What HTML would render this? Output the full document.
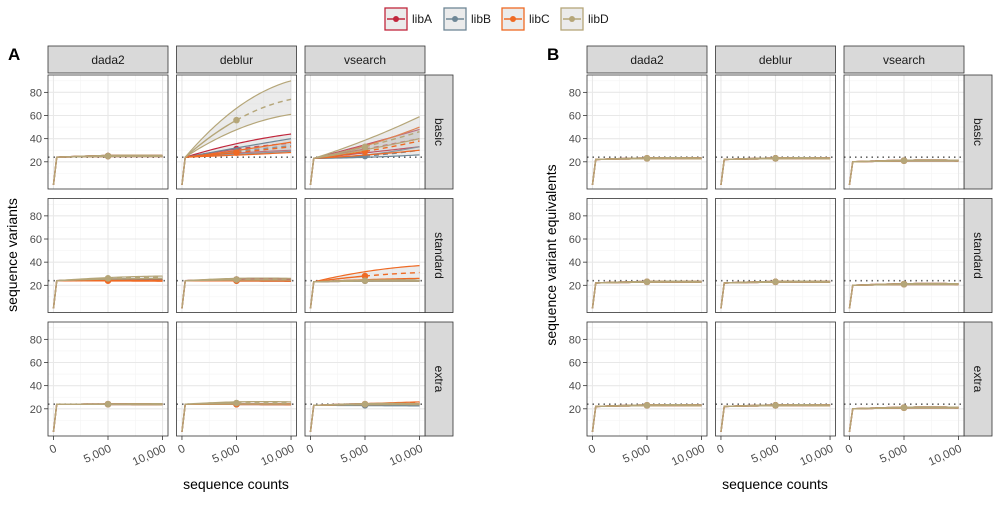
<!DOCTYPE html>
<html><head><meta charset="utf-8"><style>
body{margin:0;background:#fff;font-family:"Liberation Sans",sans-serif}
</style></head><body>
<svg id="c" width="1000" height="500" xmlns="http://www.w3.org/2000/svg"></svg>
<script>
const libs=["libA","libB","libC","libD"];
const colors=["#c1273d","#6f8796","#ef6a24","#b5a679"];
const methods=["dada2","deblur","vsearch"];
const levels=["basic","standard","extra"];
const xTicks=[0,5000,10000];
const xTickLabels=["0","5,000","10,000"];
const yTicks=[20,40,60,80];
const refLine=24;
// Figure A: [level][method][lib]
const startA=[[[24,24,24,24],[24,24,24,24],[23,23,23,23]],[[24,24,24,24],[24,24,24,24],[23,23,23,23]],[[24,24,24,24],[24,24,24,24],[23,23,23,23]]];
const v5A=[[[25,25,25,25],[31,29,28,56],[31,25,29,33]],[[25,25,24,26],[25,24,24,25],[24,24,28,24]],[[24,24,24,24],[24,24,24,25],[24,23,24,24]]];
const v10A=[[[25,25,25,25],[36,34,33,74],[40,30,38,46]],[[25,25,24,27],[25,24,24,25],[24,24,31,24]],[[24,24,24,24],[24,24,24,25],[24,23,25,24]]];
const lo10A=[[[24.5,24.5,24.5,24.5],[30,29,28,61],[33,26,30,40]],[[24.5,24.5,23.5,26],[24.5,23.5,23.5,24.5],[23.5,23.5,26,23.5]],[[23.5,23.5,23.5,23.5],[23.5,23.5,23.5,24],[23.5,22.5,24,23.5]]];
const hi10A=[[[25.5,25.5,25.5,25.5],[44,40,37,90],[48,33,50,59]],[[25.5,25.5,24.5,28],[25.5,24.5,24.5,26],[24.5,24.5,37,24.5]],[[24.5,24.5,24.5,24.5],[24.5,24.5,24.5,26],[24.5,23.5,26,24.5]]];
// Figure B
const startB=[[[22,22,22,22],[22,22,22,22],[20,20,20,20]],[[22,22,22,22],[22,22,22,22],[20,20,20,20]],[[22,22,22,22],[22,22,22,22],[20,20,20,20]]];
const v5B=[[[23,23,23,23],[23,23,23,23],[21,21,21,21]],[[23,23,23,23],[23,23,23,23],[21,21,21,21]],[[23,23,23,23],[23,23,23,23],[21,21,21,21]]];
const v10B=[[[23,23,23,23],[23,23,23,23],[21,21,21,21]],[[23,23,23,23],[23,23,23,23],[21,21,21,21]],[[23,23,23,23],[23,23,23,23],[21,21,21,21]]];
const lo10B=[[[22.6,22.6,22.6,22.6],[22.6,22.6,22.6,22.6],[20.6,20.6,20.6,20.6]],[[22.6,22.6,22.6,22.6],[22.6,22.6,22.6,22.6],[20.6,20.6,20.6,20.6]],[[22.6,22.6,22.6,22.6],[22.6,22.6,22.6,22.6],[20.6,20.6,20.6,20.6]]];
const hi10B=[[[23.4,23.4,23.4,23.4],[23.4,23.4,23.4,23.4],[21.4,21.4,21.4,21.4]],[[23.4,23.4,23.4,23.4],[23.4,23.4,23.4,23.4],[21.4,21.4,21.4,21.4]],[[23.4,23.4,23.4,23.4],[23.4,23.4,23.4,23.4],[21.4,21.4,21.4,21.4]]];

const NS="http://www.w3.org/2000/svg";
const svg=document.getElementById("c");
function mk(t,a,p){const e=document.createElementNS(NS,t);for(const k in a)e.setAttribute(k,a[k]);(p||svg).appendChild(e);return e;}
function txt(s,a,p){const e=mk("text",a,p);e.textContent=s;return e;}

const rowTops=[75,198.5,322],PH=114,PW=120;
const YMIN=-3.5,YMAX=95,XMIN=-500,XMAX=10500;

function drawFigure(fx,label,letter,yTitle,xTitle,D){
  const colX=[fx,fx+128.5,fx+257];
  const g=mk("g",{});
  
  
  const L=txt(letter,{x:fx-40,y:60,"font-size":17,"font-weight":"bold",fill:"#000"},g);
  
  
  methods.forEach((m,j)=>{
    mk("rect",{x:colX[j],y:46,width:PW,height:27,fill:"#d9d9d9",stroke:"#333","stroke-width":0.8},g);
    const t=txt(m,{x:colX[j]+PW/2,y:64,"font-size":12,"text-anchor":"middle",fill:"#1a1a1a"},g);
    
    
  });
  levels.forEach((lv,i)=>{
    const top=rowTops[i];
    const sx=colX[2]+PW;
    mk("rect",{x:sx,y:top,width:28,height:PH,fill:"#d9d9d9",stroke:"#333","stroke-width":0.8},g);
    const t=txt(lv,{x:0,y:0,"font-size":12,"text-anchor":"middle",fill:"#1a1a1a",transform:`translate(${sx+10},${top+PH/2}) rotate(90)`},g);
    
    
    const ys=v=>top+PH-(v-YMIN)/(YMAX-YMIN)*PH;
    yTicks.forEach(v=>{
      mk("line",{x1:colX[0]-4,x2:colX[0],y1:ys(v),y2:ys(v),stroke:"#333","stroke-width":0.8},g);
      const tl=txt(v,{x:colX[0]-6,y:ys(v)+4,"font-size":11,"text-anchor":"end",fill:"#4d4d4d"},g);
      
      
    });
    methods.forEach((m,j)=>{
      const x0=colX[j];
      const xs=v=>x0+(v-XMIN)/(XMAX-XMIN)*PW;
      const pg=mk("g",{},g);
      
      
      mk("rect",{x:x0,y:top,width:PW,height:PH,fill:"#fff"},pg);
      [10,30,50,70,90].forEach(v=>mk("line",{x1:x0,x2:x0+PW,y1:ys(v),y2:ys(v),stroke:"#f3f3f3","stroke-width":0.6},pg));
      [2500,7500].forEach(v=>mk("line",{x1:xs(v),x2:xs(v),y1:top,y2:top+PH,stroke:"#f3f3f3","stroke-width":0.6},pg));
      yTicks.forEach(v=>mk("line",{x1:x0,x2:x0+PW,y1:ys(v),y2:ys(v),stroke:"#e8e8e8","stroke-width":1.1},pg));
      xTicks.forEach(v=>mk("line",{x1:xs(v),x2:xs(v),y1:top,y2:top+PH,stroke:"#e8e8e8","stroke-width":1.1},pg));
      mk("line",{x1:x0,x2:x0+PW,y1:ys(refLine),y2:ys(refLine),stroke:"#666","stroke-width":1.6,"stroke-dasharray":"1.5,4"},pg);
      const order=[0,1,2,3];
      order.forEach(k=>{
        const s=D.start[i][j][k],v5=D.v5[i][j][k],v10=D.v10[i][j][k],lo=D.lo[i][j][k],hi=D.hi[i][j][k];
        const X=[300,5000,10000],Y=[s,v5,v10];
        const f=x=>{let r=0;for(let a=0;a<3;a++){let p=Y[a];for(let b=0;b<3;b++)if(b!==a)p*=(x-X[b])/(X[a]-X[b]);r+=p;}return r;};
        const tf=x=>(Math.abs(v10-s)>0.5)?(f(x)-s)/(v10-s):(x-300)/9700;
        const xsArr=[];for(let x=300;x<=10000;x+=250)xsArr.push(x);
        xsArr.push(10000);
        const upper=xsArr.map(x=>[xs(x),ys(s+(hi-s)*tf(x))]);
        const lower=xsArr.map(x=>[xs(x),ys(s+(lo-s)*tf(x))]);
        const band=mk("path",{d:"M"+upper.map(p=>p.join(",")).join("L")+"L"+lower.slice().reverse().map(p=>p.join(",")).join("L")+"Z",fill:"#bdbdbd","fill-opacity":0.3,stroke:"none"},pg);
        
        
        mk("path",{d:"M"+upper.map(p=>p.join(",")).join("L"),fill:"none",stroke:colors[k],"stroke-width":1.2},pg);
        mk("path",{d:"M"+lower.map(p=>p.join(",")).join("L"),fill:"none",stroke:colors[k],"stroke-width":1.2},pg);
        const sol=[[xs(0),ys(0)],[xs(300),ys(s)]];
        for(let x=550;x<=5000;x+=250)sol.push([xs(x),ys(f(x))]);
        const ln=mk("path",{d:"M"+sol.map(p=>p.join(",")).join("L"),fill:"none",stroke:colors[k],"stroke-width":1.4},pg);
        
        
        const das=[];for(let x=5000;x<=10000;x+=250)das.push([xs(x),ys(f(x))]);
        mk("path",{d:"M"+das.map(p=>p.join(",")).join("L"),fill:"none",stroke:colors[k],"stroke-width":1.4,"stroke-dasharray":"5,4"},pg);
        const pt=mk("circle",{cx:xs(5000),cy:ys(v5),r:3.3,fill:colors[k]},pg);
        
        
      });
      mk("rect",{x:x0,y:top,width:PW,height:PH,fill:"none",stroke:"#333","stroke-width":0.8},pg);
      if(i===2){
        xTicks.forEach((v,q)=>{
          mk("line",{x1:xs(v),x2:xs(v),y1:top+PH,y2:top+PH+4,stroke:"#333","stroke-width":0.8},g);
          const tl=txt(xTickLabels[q],{x:0,y:0,"font-size":11.5,"text-anchor":"end",fill:"#4d4d4d",transform:`translate(${xs(v)+4},${top+PH+15}) rotate(-25)`},g);
          
          
        });
      }
    });
  });
  const yt=txt(yTitle,{x:0,y:0,"font-size":14,"text-anchor":"middle",fill:"#000",transform:`translate(${fx-31},${255}) rotate(-90)`},g);
  
  
  const xt=txt(xTitle,{x:fx+188,y:489,"font-size":14,"text-anchor":"middle",fill:"#000"},g);
  
  
}
drawFigure(48,"A","A","sequence variants","sequence counts",{start:startA,v5:v5A,v10:v10A,lo:lo10A,hi:hi10A});
drawFigure(587,"B","B","sequence variant equivalents","sequence counts",{start:startB,v5:v5B,v10:v10B,lo:lo10B,hi:hi10B});

// legend
const lg=mk("g",{});


const lx=[385,444,502,561];
libs.forEach((l,k)=>{
  const e=mk("g",{},lg);
  
  
  mk("rect",{x:lx[k],y:8,width:22,height:22,fill:"#bdbdbd","fill-opacity":0.3,stroke:colors[k],"stroke-width":1.3},e);
  mk("line",{x1:lx[k]+2,x2:lx[k]+20,y1:19,y2:19,stroke:colors[k],"stroke-width":1.4},e);
  mk("circle",{cx:lx[k]+11,cy:19,r:3,fill:colors[k]},e);
  txt(l,{x:lx[k]+27,y:23,"font-size":12,fill:"#1a1a1a"},e);
});
</script>
</body></html>
